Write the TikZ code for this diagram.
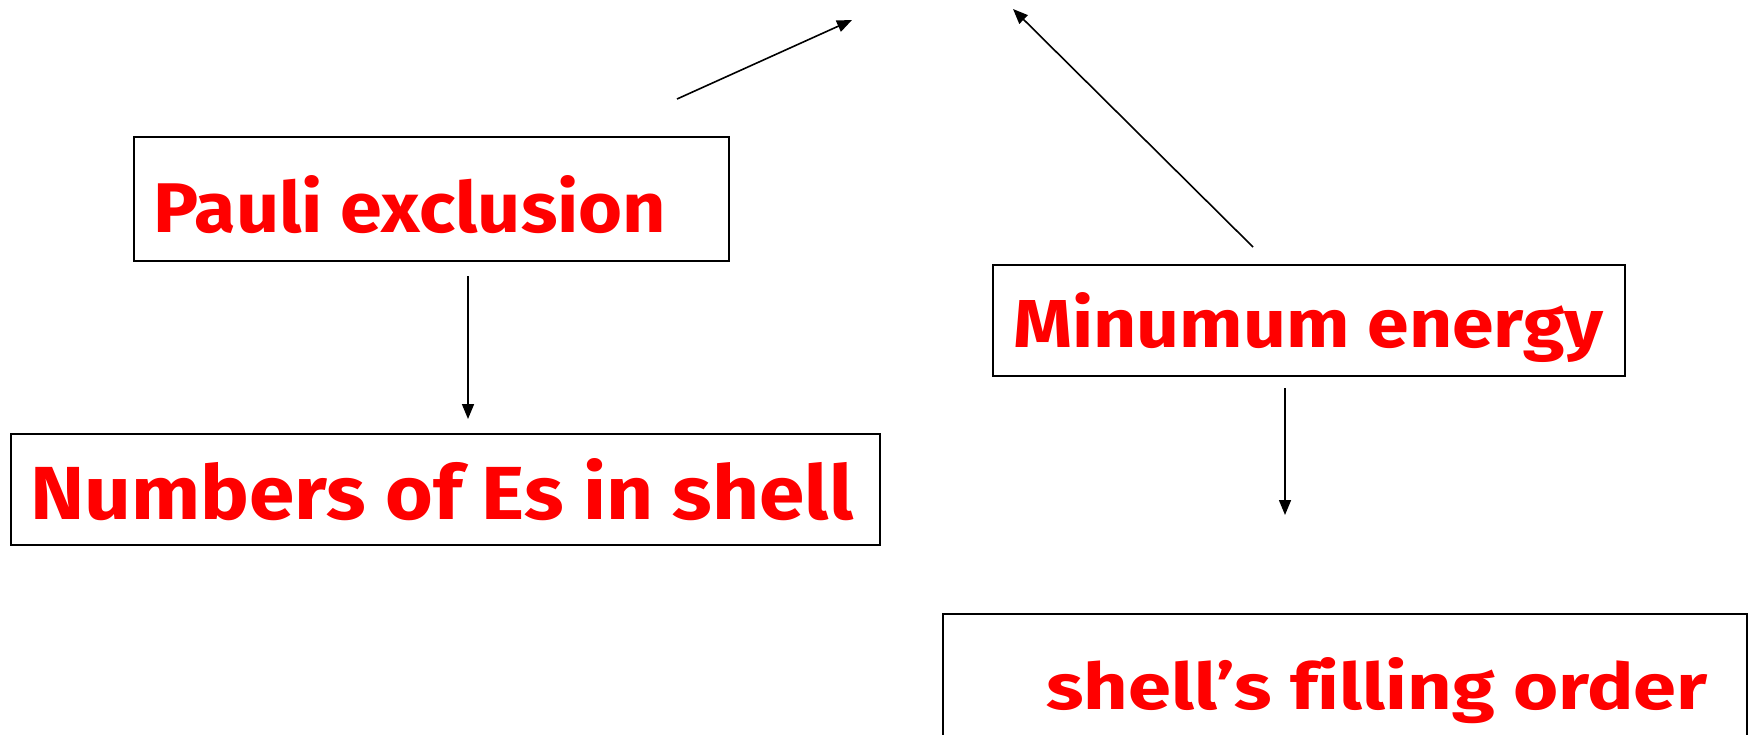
\documentclass[tikz,border=0pt]{standalone}
\usepackage{fontspec}
\setmainfont{Fira Sans}[Ligatures=NoCommon]
\usetikzlibrary{arrows.meta}
\definecolor{labelred}{RGB}{255,0,0}
\tikzset{
  box/.style={draw=black, line width=0.8pt, inner sep=0pt, anchor=north west},
  label/.style={anchor=base west, inner sep=0pt, text=labelred,
    font=\fontsize{30}{36}\selectfont\bfseries},
  link/.style={draw=black, line width=0.8pt, -{Triangle[length=7.5pt,width=6pt]}}
}
\begin{document}
\begin{tikzpicture}[x=0.5pt,y=-0.5pt]
  \path[use as bounding box] (0,0) rectangle (1749,734);
  \clip (0,0) rectangle (1749,734);

  % boxes
  \node[box, minimum width=297.5pt, minimum height=62pt] (pauli) at (133,136) {};
  \node[box, minimum width=434.5pt, minimum height=55.5pt] (numbers) at (10,433) {};
  \node[box, minimum width=316pt, minimum height=55.5pt] (minimum) at (992,264) {};
  \node[box, minimum width=402pt, minimum height=80pt] (order) at (942,613) {};

  % labels
  \node[label] (pauliT) at (153,232) {\resizebox{256.5pt}{28.5pt}{Pauli exclusion}};
  \node[label] (numbersT) at (30,519) {\resizebox{411.5pt}{30.5pt}{Numbers of Es in shell}};
  \node[label] (minimumT) at (1013,347) {\resizebox{295pt}{27.5pt}{Minumum energy}};
  \node[label] (orderT) at (1046,709) {\resizebox{330.5pt}{26pt}{shell’s filling order}};

  % arrow end points
  \coordinate (a1s) at (677,99);
  \coordinate (a1e) at (852,20);
  \coordinate (a2s) at (1253,247);
  \coordinate (a2e) at (1013,9);
  \coordinate (a3s) at (468,276);
  \coordinate (a3e) at (468,419);
  \coordinate (a4s) at (1285,388);
  \coordinate (a4e) at (1285,515);

  \draw[link] (a1s) -- (a1e);
  \draw[link] (a2s) -- (a2e);
  \draw[link] (a3s) -- (a3e);
  \draw[link] (a4s) -- (a4e);
\end{tikzpicture}
\end{document}
